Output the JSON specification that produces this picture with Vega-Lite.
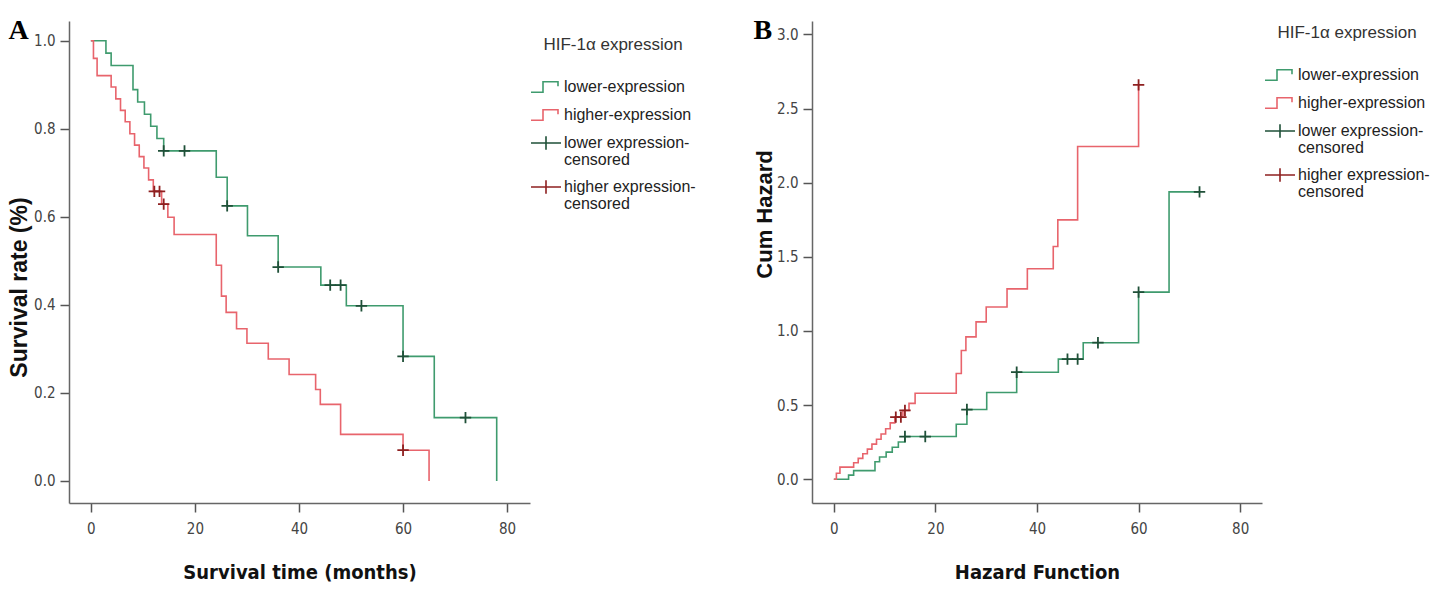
{
  "$schema": "https://vega.github.io/schema/vega-lite/v6.json",
  "padding": {"left": 8, "top": 17, "right": 5, "bottom": 5},
  "background": "white",
  "datasets": {
    "survA": [
      {"t": 0, "v": 1.0, "grp": "lower-expression"},
      {"t": 2.9, "v": 0.972, "grp": "lower-expression"},
      {"t": 3.9, "v": 0.944, "grp": "lower-expression"},
      {"t": 8.1, "v": 0.889, "grp": "lower-expression"},
      {"t": 9.0, "v": 0.861, "grp": "lower-expression"},
      {"t": 10.3, "v": 0.833, "grp": "lower-expression"},
      {"t": 11.5, "v": 0.806, "grp": "lower-expression"},
      {"t": 12.7, "v": 0.778, "grp": "lower-expression"},
      {"t": 14.0, "v": 0.75, "grp": "lower-expression"},
      {"t": 24.1, "v": 0.69, "grp": "lower-expression"},
      {"t": 26.2, "v": 0.625, "grp": "lower-expression"},
      {"t": 30.1, "v": 0.557, "grp": "lower-expression"},
      {"t": 36.0, "v": 0.486, "grp": "lower-expression"},
      {"t": 44.2, "v": 0.445, "grp": "lower-expression"},
      {"t": 49.1, "v": 0.398, "grp": "lower-expression"},
      {"t": 60.0, "v": 0.283, "grp": "lower-expression"},
      {"t": 66.0, "v": 0.144, "grp": "lower-expression"},
      {"t": 78.0, "v": 0.0, "grp": "lower-expression"},
      {"t": 0, "v": 1.0, "grp": "higher-expression"},
      {"t": 0.5, "v": 0.96, "grp": "higher-expression"},
      {"t": 1.2, "v": 0.921, "grp": "higher-expression"},
      {"t": 3.9, "v": 0.895, "grp": "higher-expression"},
      {"t": 4.8, "v": 0.868, "grp": "higher-expression"},
      {"t": 5.7, "v": 0.842, "grp": "higher-expression"},
      {"t": 6.6, "v": 0.816, "grp": "higher-expression"},
      {"t": 7.5, "v": 0.789, "grp": "higher-expression"},
      {"t": 8.4, "v": 0.763, "grp": "higher-expression"},
      {"t": 9.3, "v": 0.737, "grp": "higher-expression"},
      {"t": 10.2, "v": 0.711, "grp": "higher-expression"},
      {"t": 11.1, "v": 0.684, "grp": "higher-expression"},
      {"t": 12.0, "v": 0.658, "grp": "higher-expression"},
      {"t": 13.6, "v": 0.629, "grp": "higher-expression"},
      {"t": 14.8, "v": 0.599, "grp": "higher-expression"},
      {"t": 16.0, "v": 0.56, "grp": "higher-expression"},
      {"t": 24.1, "v": 0.49, "grp": "higher-expression"},
      {"t": 25.1, "v": 0.42, "grp": "higher-expression"},
      {"t": 26.0, "v": 0.383, "grp": "higher-expression"},
      {"t": 28.0, "v": 0.346, "grp": "higher-expression"},
      {"t": 30.0, "v": 0.313, "grp": "higher-expression"},
      {"t": 34.1, "v": 0.277, "grp": "higher-expression"},
      {"t": 38.1, "v": 0.242, "grp": "higher-expression"},
      {"t": 43.2, "v": 0.208, "grp": "higher-expression"},
      {"t": 44.1, "v": 0.174, "grp": "higher-expression"},
      {"t": 48.0, "v": 0.106, "grp": "higher-expression"},
      {"t": 60.0, "v": 0.07, "grp": "higher-expression"},
      {"t": 65.0, "v": 0.0, "grp": "higher-expression"}
    ],
    "censA": [
      {"t": 14.0, "v": 0.75, "grp": "lower expression-censored"},
      {"t": 18.0, "v": 0.75, "grp": "lower expression-censored"},
      {"t": 26.2, "v": 0.625, "grp": "lower expression-censored"},
      {"t": 36.0, "v": 0.486, "grp": "lower expression-censored"},
      {"t": 46.0, "v": 0.445, "grp": "lower expression-censored"},
      {"t": 48.0, "v": 0.445, "grp": "lower expression-censored"},
      {"t": 52.0, "v": 0.398, "grp": "lower expression-censored"},
      {"t": 60.0, "v": 0.283, "grp": "lower expression-censored"},
      {"t": 72.0, "v": 0.144, "grp": "lower expression-censored"},
      {"t": 12.2, "v": 0.658, "grp": "higher expression-censored"},
      {"t": 13.2, "v": 0.658, "grp": "higher expression-censored"},
      {"t": 14.0, "v": 0.629, "grp": "higher expression-censored"},
      {"t": 60.0, "v": 0.07, "grp": "higher expression-censored"}
    ],
    "hazB": [
      {"t": 0, "v": 0.0, "grp": "lower-expression"},
      {"t": 2.9, "v": 0.028, "grp": "lower-expression"},
      {"t": 3.9, "v": 0.058, "grp": "lower-expression"},
      {"t": 8.1, "v": 0.118, "grp": "lower-expression"},
      {"t": 9.0, "v": 0.15, "grp": "lower-expression"},
      {"t": 10.3, "v": 0.183, "grp": "lower-expression"},
      {"t": 11.5, "v": 0.216, "grp": "lower-expression"},
      {"t": 12.7, "v": 0.251, "grp": "lower-expression"},
      {"t": 14.0, "v": 0.288, "grp": "lower-expression"},
      {"t": 24.1, "v": 0.371, "grp": "lower-expression"},
      {"t": 26.2, "v": 0.47, "grp": "lower-expression"},
      {"t": 30.1, "v": 0.585, "grp": "lower-expression"},
      {"t": 36.0, "v": 0.722, "grp": "lower-expression"},
      {"t": 44.2, "v": 0.81, "grp": "lower-expression"},
      {"t": 49.1, "v": 0.921, "grp": "lower-expression"},
      {"t": 60.0, "v": 1.262, "grp": "lower-expression"},
      {"t": 66.0, "v": 1.938, "grp": "lower-expression"},
      {"t": 72.0, "v": 1.938, "grp": "lower-expression"},
      {"t": 0, "v": 0.0, "grp": "higher-expression"},
      {"t": 0.5, "v": 0.041, "grp": "higher-expression"},
      {"t": 1.2, "v": 0.082, "grp": "higher-expression"},
      {"t": 3.9, "v": 0.111, "grp": "higher-expression"},
      {"t": 4.8, "v": 0.141, "grp": "higher-expression"},
      {"t": 5.7, "v": 0.172, "grp": "higher-expression"},
      {"t": 6.6, "v": 0.203, "grp": "higher-expression"},
      {"t": 7.5, "v": 0.237, "grp": "higher-expression"},
      {"t": 8.4, "v": 0.27, "grp": "higher-expression"},
      {"t": 9.3, "v": 0.305, "grp": "higher-expression"},
      {"t": 10.2, "v": 0.341, "grp": "higher-expression"},
      {"t": 11.1, "v": 0.38, "grp": "higher-expression"},
      {"t": 12.0, "v": 0.419, "grp": "higher-expression"},
      {"t": 13.6, "v": 0.464, "grp": "higher-expression"},
      {"t": 14.8, "v": 0.512, "grp": "higher-expression"},
      {"t": 16.0, "v": 0.58, "grp": "higher-expression"},
      {"t": 24.1, "v": 0.713, "grp": "higher-expression"},
      {"t": 25.1, "v": 0.868, "grp": "higher-expression"},
      {"t": 26.0, "v": 0.96, "grp": "higher-expression"},
      {"t": 28.0, "v": 1.061, "grp": "higher-expression"},
      {"t": 30.0, "v": 1.162, "grp": "higher-expression"},
      {"t": 34.1, "v": 1.284, "grp": "higher-expression"},
      {"t": 38.1, "v": 1.419, "grp": "higher-expression"},
      {"t": 43.2, "v": 1.57, "grp": "higher-expression"},
      {"t": 44.1, "v": 1.749, "grp": "higher-expression"},
      {"t": 48.0, "v": 2.244, "grp": "higher-expression"},
      {"t": 60.0, "v": 2.659, "grp": "higher-expression"}
    ],
    "censB": [
      {"t": 14.0, "v": 0.288, "grp": "lower expression-censored"},
      {"t": 18.0, "v": 0.288, "grp": "lower expression-censored"},
      {"t": 26.2, "v": 0.47, "grp": "lower expression-censored"},
      {"t": 36.0, "v": 0.722, "grp": "lower expression-censored"},
      {"t": 46.0, "v": 0.81, "grp": "lower expression-censored"},
      {"t": 48.0, "v": 0.81, "grp": "lower expression-censored"},
      {"t": 52.0, "v": 0.921, "grp": "lower expression-censored"},
      {"t": 60.0, "v": 1.262, "grp": "lower expression-censored"},
      {"t": 72.0, "v": 1.938, "grp": "lower expression-censored"},
      {"t": 12.2, "v": 0.419, "grp": "higher expression-censored"},
      {"t": 13.2, "v": 0.419, "grp": "higher expression-censored"},
      {"t": 14.0, "v": 0.464, "grp": "higher expression-censored"},
      {"t": 60.0, "v": 2.659, "grp": "higher expression-censored"}
    ]
  },
  "hconcat": [
    {
      "width": 461,
      "height": 482,
      "title": {"text": "A", "anchor": "start", "frame": "bounds", "font": "Liberation Serif", "fontSize": 28, "fontWeight": "bold", "color": "#000", "offset": -24},
      "layer": [
        {
          "data": {"name": "survA"},
          "mark": {"type": "line", "interpolate": "step-after", "strokeWidth": 1.6},
          "encoding": {
            "x": {"field": "t", "type": "quantitative", "scale": {"domain": [-4.2, 84.4], "nice": false, "zero": false},
              "axis": {"values": [0, 20, 40, 60, 80], "title": "Survival time (months)", "titleFontSize": 20, "titlePadding": 26, "labelPadding": 9}},
            "y": {"field": "v", "type": "quantitative", "scale": {"domain": [-0.05, 1.045], "nice": false, "zero": false},
              "axis": {"values": [0, 0.2, 0.4, 0.6, 0.8, 1.0], "format": ".1f", "title": "Survival rate (%)", "titleFont": "Liberation Sans", "titleFontSize": 23, "titlePadding": 2, "titleY": 266}},
            "color": {"field": "grp", "type": "nominal",
              "scale": {"domain": ["lower-expression", "higher-expression", "lower expression-censored", "higher expression-censored"], "range": ["#3f9b6e", "#e8646c", "#1f5038", "#8e2020"]},
              "legend": {"title": "HIF-1α expression", "orient": "none", "legendX": 461, "legendY": 16,
                "labelExpr": "datum.label == 'lower expression-censored' ? ['lower expression-', 'censored'] : datum.label == 'higher expression-censored' ? ['higher expression-', 'censored'] : datum.label",
                "encode": {"symbols": {"update": {"shape": {"signal": "(datum.value == 'lower expression-censored' || datum.value == 'higher expression-censored') ? 'M-1,0H1M0,-0.45V0.45' : 'M-1,0.35H-0.2V-0.35H0.8V-0.05'"}, "fill": {"value": "transparent"}, "strokeWidth": {"value": 1.6}}},
                           "labels": {"update": {"lineHeight": {"value": 17}}}}}},
            "detail": {"field": "grp"}
          }
        },
        {
          "data": {"name": "censA"},
          "mark": {"type": "point", "shape": "M-1,0H1M0,-1V1", "size": 130, "filled": false, "strokeWidth": 1.8, "opacity": 1},
          "encoding": {
            "x": {"field": "t", "type": "quantitative"},
            "y": {"field": "v", "type": "quantitative"},
            "color": {"field": "grp", "type": "nominal"}
          }
        }
      ]
    },
    {
      "width": 450,
      "height": 482,
      "title": {"text": "B", "anchor": "start", "frame": "bounds", "font": "Liberation Serif", "fontSize": 28, "fontWeight": "bold", "color": "#000", "offset": -24},
      "layer": [
        {
          "data": {"name": "hazB"},
          "mark": {"type": "line", "interpolate": "step-after", "strokeWidth": 1.6},
          "encoding": {
            "x": {"field": "t", "type": "quantitative", "scale": {"domain": [-4.3, 84.3], "nice": false, "zero": false},
              "axis": {"values": [0, 20, 40, 60, 80], "title": "Hazard Function", "titleFontSize": 20, "titlePadding": 26, "labelPadding": 9}},
            "y": {"field": "v", "type": "quantitative", "scale": {"domain": [-0.16, 3.09], "nice": false, "zero": false},
              "axis": {"values": [0, 0.5, 1, 1.5, 2, 2.5, 3], "format": ".1f", "title": "Cum Hazard", "titleFont": "Liberation Sans", "titleFontSize": 22, "titlePadding": 0, "titleY": 193}},
            "color": {"field": "grp", "type": "nominal",
              "scale": {"domain": ["lower-expression", "higher-expression", "lower expression-censored", "higher expression-censored"], "range": ["#3f9b6e", "#e8646c", "#1f5038", "#8e2020"]},
              "legend": {"title": "HIF-1α expression", "orient": "none", "legendX": 452, "legendY": 4,
                "labelExpr": "datum.label == 'lower expression-censored' ? ['lower expression-', 'censored'] : datum.label == 'higher expression-censored' ? ['higher expression-', 'censored'] : datum.label",
                "encode": {"symbols": {"update": {"shape": {"signal": "(datum.value == 'lower expression-censored' || datum.value == 'higher expression-censored') ? 'M-1,0H1M0,-0.45V0.45' : 'M-1,0.35H-0.2V-0.35H0.8V-0.05'"}, "fill": {"value": "transparent"}, "strokeWidth": {"value": 1.6}}},
                           "labels": {"update": {"lineHeight": {"value": 17}}}}}},
            "detail": {"field": "grp"}
          }
        },
        {
          "data": {"name": "censB"},
          "mark": {"type": "point", "shape": "M-1,0H1M0,-1V1", "size": 130, "filled": false, "strokeWidth": 1.8, "opacity": 1},
          "encoding": {
            "x": {"field": "t", "type": "quantitative"},
            "y": {"field": "v", "type": "quantitative"},
            "color": {"field": "grp", "type": "nominal"}
          }
        }
      ]
    }
  ],
  "resolve": {"scale": {"color": "independent"}, "legend": {"color": "independent"}},
  "spacing": 57,
  "config": {
    "view": {"stroke": null},
    "axis": {
      "grid": false,
      "domainColor": "#666",
      "domainWidth": 1.5,
      "tickColor": "#555",
      "tickWidth": 1.5,
      "tickSize": 9,
      "labelFont": "DejaVu Sans Condensed, Liberation Sans, sans-serif",
      "labelFontSize": 15,
      "labelColor": "#444",
      "labelPadding": 5,
      "titleFont": "DejaVu Sans Condensed, Liberation Sans, sans-serif",
      "titleColor": "#111",
      "titleFontWeight": "bold"
    },
    "legend": {
      "padding": 0,
      "titleFont": "Liberation Sans",
      "titleFontSize": 17,
      "titleFontWeight": "normal",
      "titleColor": "#333",
      "titleAnchor": "middle",
      "titlePadding": 17,
      "labelFont": "Liberation Sans",
      "labelFontSize": 16,
      "labelColor": "#222",
      "labelOffset": 2,
      "labelLimit": 300,
      "symbolSize": 900,
      "rowPadding": 3,
      "symbolStrokeWidth": 1.6,
      "symbolFillColor": "transparent"
    }
  }
}
